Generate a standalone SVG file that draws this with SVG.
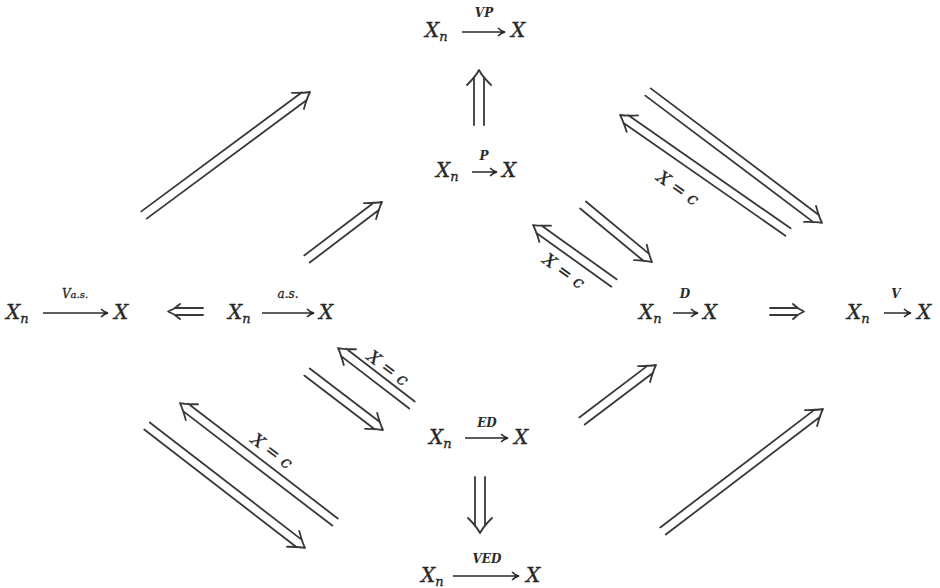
<svg xmlns="http://www.w3.org/2000/svg" width="940" height="588" viewBox="0 0 940 588">
<style>
.m{font-family:"DejaVu Serif","Liberation Serif",serif;font-style:italic;font-size:20px;fill:#262626;stroke:#262626;stroke-width:0.35}
.s{font-size:13px}
.lb{font-family:"DejaVu Serif","Liberation Serif",serif;font-style:italic;font-weight:bold;font-size:12px;fill:#2a2a2a;text-anchor:middle}
.lbn{font-weight:normal;stroke:#2a2a2a;stroke-width:0.3}
.xc{font-family:"DejaVu Serif","Liberation Serif",serif;font-style:italic;font-size:17px;fill:#262626;stroke:#262626;stroke-width:0.3;text-anchor:middle}
.sa{fill:none;stroke:#2a2a2a;stroke-width:1.6}
.dbl{fill:none;stroke:#383838;stroke-width:1.8;stroke-linecap:round;stroke-linejoin:round}
</style>
<rect width="940" height="588" fill="#ffffff"/>

<g id="node-VP">
<text class="m" x="425" y="37">X<tspan class="s" dy="4">n</tspan></text>
<path class="sa" d="M462,32 H504 M498,28 Q501,31 505,32 Q501,33 498,36"/>
<text class="lb" x="484" y="17">VP</text>
<text class="m" x="511" y="37">X</text>
</g>

<g id="node-P">
<text class="m" x="436" y="177">X<tspan class="s" dy="4">n</tspan></text>
<path class="sa" d="M472,172 H496 M490,168 Q493,171 497,172 Q493,173 490,176"/>
<text class="lb" x="484" y="160">P</text>
<text class="m" x="502" y="177">X</text>
</g>

<g id="node-Vas">
<text class="m" x="6" y="319">X<tspan class="s" dy="4">n</tspan></text>
<path class="sa" d="M43,313 H107 M101,309 Q104,312 108,313 Q104,314 101,317"/>
<text class="lb lbn" x="75" y="298">V<tspan font-size="10">a.s.</tspan></text>
<text class="m" x="114" y="319">X</text>
</g>

<g id="node-as">
<text class="m" x="228" y="319">X<tspan class="s" dy="4">n</tspan></text>
<path class="sa" d="M262,313 H313 M307,309 Q310,312 314,313 Q310,314 307,317"/>
<text class="lb lbn" x="288" y="298" font-size="10">a.s.</text>
<text class="m" x="319" y="319">X</text>
</g>

<g id="node-D">
<text class="m" x="639" y="319">X<tspan class="s" dy="4">n</tspan></text>
<path class="sa" d="M673,313 H697 M691,309 Q694,312 698,313 Q694,314 691,317"/>
<text class="lb" x="685" y="298">D</text>
<text class="m" x="703" y="319">X</text>
</g>

<g id="node-V">
<text class="m" x="847" y="319">X<tspan class="s" dy="4">n</tspan></text>
<path class="sa" d="M884,313 H910 M904,309 Q907,312 911,313 Q907,314 904,317"/>
<text class="lb" x="896" y="298">V</text>
<text class="m" x="917" y="319">X</text>
</g>

<g id="node-ED">
<text class="m" x="429" y="444">X<tspan class="s" dy="4">n</tspan></text>
<path class="sa" d="M465,438 H507 M501,434 Q504,437 508,438 Q504,439 501,442"/>
<text class="lb" x="487" y="427">ED</text>
<text class="m" x="514" y="444">X</text>
</g>

<g id="node-VED">
<text class="m" x="421" y="582">X<tspan class="s" dy="4">n</tspan></text>
<path class="sa" d="M453,576 H518 M512,572 Q515,575 519,576 Q515,577 512,580"/>
<text class="lb" x="487" y="563">VED</text>
<text class="m" x="526" y="582">X</text>
</g>

<g id="connectors">
<path class="dbl" d="M203,308 H176 M203,315 H176 M180,304 Q175,309 168,311.5 Q175,314 180,319" stroke-width="1.5"/>
<path class="dbl" d="M770,308 H797 M770,315 H797 M793,304 Q798,309 804,311.5 Q798,314 793,319" stroke-width="1.5"/>

<g transform="translate(144,215) rotate(-36.54)"><path class="dbl" d="M0,-4.5 H199.6 M0,4.5 H199.6 M191.6,-10 Q200.6,-3 206.6,0 Q200.6,3 191.6,10"/></g>
<g transform="translate(307,259) rotate(-37.23)"><path class="dbl" d="M0,-4.5 H87.2 M0,4.5 H87.2 M79.2,-10 Q88.2,-3 94.2,0 Q88.2,3 79.2,10"/></g>
<g transform="translate(648,92) rotate(36.97)"><path class="dbl" d="M0,-4.5 H210.8 M0,4.5 H210.8 M202.8,-10 Q211.8,-3 217.8,0 Q211.8,3 202.8,10"/></g>
<g transform="translate(788,232) rotate(-145.14)"><path class="dbl" d="M0,-4.5 H197.7 M0,4.5 H197.7 M189.7,-10 Q198.7,-3 204.7,0 Q198.7,3 189.7,10"/></g>
<g transform="translate(583,205) rotate(39.6)"><path class="dbl" d="M0,-4.5 H82.5 M0,4.5 H82.5 M74.5,-10 Q83.5,-3 89.5,0 Q83.5,3 74.5,10"/></g>
<g transform="translate(614,283) rotate(-144.4)"><path class="dbl" d="M0,-4.5 H92.6 M0,4.5 H92.6 M84.6,-10 Q93.6,-3 99.6,0 Q93.6,3 84.6,10"/></g>
<g transform="translate(307,372) rotate(37.35)"><path class="dbl" d="M0,-4.5 H88.6 M0,4.5 H88.6 M80.6,-10 Q89.6,-3 95.6,0 Q89.6,3 80.6,10"/></g>
<g transform="translate(412,405) rotate(-142.4)"><path class="dbl" d="M0,-4.5 H86.4 M0,4.5 H86.4 M78.4,-10 Q87.4,-3 93.4,0 Q87.4,3 78.4,10"/></g>
<g transform="translate(147,426) rotate(37.67)"><path class="dbl" d="M0,-4.5 H192.6 M0,4.5 H192.6 M184.6,-10 Q193.6,-3 199.6,0 Q193.6,3 184.6,10"/></g>
<g transform="translate(335,522) rotate(-142.5)"><path class="dbl" d="M0,-4.5 H188.4 M0,4.5 H188.4 M180.4,-10 Q189.4,-3 195.4,0 Q189.4,3 180.4,10"/></g>
<g transform="translate(582,421) rotate(-37.12)"><path class="dbl" d="M0,-4.5 H85.8 M0,4.5 H85.8 M77.8,-10 Q86.8,-3 92.8,0 Q86.8,3 77.8,10"/></g>
<g transform="translate(663,531) rotate(-37.33)"><path class="dbl" d="M0,-4.5 H194.2 M0,4.5 H194.2 M186.2,-10 Q195.2,-3 201.2,0 Q195.2,3 186.2,10"/></g>
<g transform="translate(479,125) rotate(-90)"><path class="dbl" d="M0,-5 H48 M0,5 H48 M40,-12 Q49,-3 55,0 Q49,3 40,12"/></g>
<g transform="translate(480,477) rotate(90)"><path class="dbl" d="M0,-5 H49 M0,5 H49 M41,-12 Q50,-3 56,0 Q50,3 41,12"/></g>

<text class="xc" transform="translate(678,188) rotate(35)" dy="0.35em">X = c</text>
<text class="xc" transform="translate(564,271) rotate(36)" dy="0.35em">X = c</text>
<text class="xc" transform="translate(388,368) rotate(37)" dy="0.35em">X = c</text>
<text class="xc" transform="translate(272,451) rotate(37)" dy="0.35em">X = c</text>
</g>
</svg>
